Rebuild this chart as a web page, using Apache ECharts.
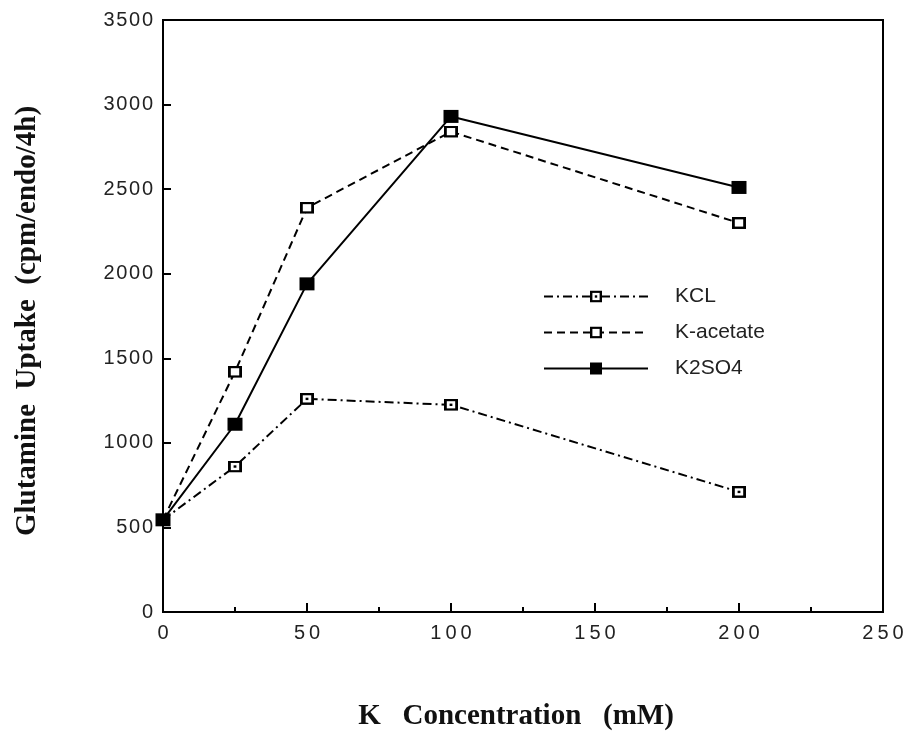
<!DOCTYPE html>
<html>
<head>
<meta charset="utf-8">
<script src="https://cdn.jsdelivr.net/npm/echarts@6/dist/echarts.min.js"></script>
<style>html,body{margin:0;padding:0;background:#fff;}#c{width:907px;height:733px;}</style>
</head>
<body>
<div id="c"></div>
<script>
const concentrations = [0, 25, 50, 100, 200];
const kclValues = [545, 860, 1260, 1225, 710];
const kAcetateValues = [545, 1420, 2390, 2840, 2300];
const k2so4Values = [545, 1110, 1940, 2930, 2510];
const seriesNames = ['KCL', 'K-acetate', 'K2SO4'];
const xTitle = 'K   Concentration   (mM)';
const yTitle = 'Glutamine  Uptake  (cpm/endo/4h)';

const dotSquare = 'image://data:image/svg+xml;utf8,' + encodeURIComponent(
  '<svg xmlns="http://www.w3.org/2000/svg" width="20" height="20" viewBox="0 0 20 20">' +
  '<rect x="2" y="2" width="16" height="16" fill="#fff" stroke="#000" stroke-width="4"/>' +
  '<rect x="8" y="8" width="4" height="4" fill="#000"/></svg>');
const openSquare = 'image://data:image/svg+xml;utf8,' + encodeURIComponent(
  '<svg xmlns="http://www.w3.org/2000/svg" width="20" height="20" viewBox="0 0 20 20">' +
  '<rect x="2" y="2" width="16" height="16" fill="#fff" stroke="#000" stroke-width="4"/></svg>');

function pairs(vals) { return concentrations.map((x, i) => [x, vals[i]]); }
function spaced(v, sep) { return String(v).split('').join(sep); }

const chart = echarts.init(document.getElementById('c'), null, {renderer: 'canvas'});
chart.setOption({
  animation: false,
  backgroundColor: '#fff',
  grid: {left: 163, right: 24, top: 20, bottom: 121, show: true, borderColor: '#000', borderWidth: 2, backgroundColor: 'transparent'},
  xAxis: {
    type: 'value', min: 0, max: 250, interval: 50,
    axisLine: {show: true, onZero: false, lineStyle: {color: '#000', width: 2}},
    axisTick: {show: true, inside: true, length: 9, lineStyle: {color: '#000', width: 2}},
    minorTick: {show: true, splitNumber: 2, length: 5, lineStyle: {color: '#000', width: 2}},
    axisLabel: {color: '#222', fontSize: 20, fontFamily: 'Liberation Sans', margin: 11,
      formatter: v => spaced(v, '\u2009')},
    splitLine: {show: false}
  },
  yAxis: {
    type: 'value', min: 0, max: 3500, interval: 500,
    axisLine: {show: true, onZero: false, lineStyle: {color: '#000', width: 2}},
    axisTick: {show: true, inside: true, length: 8, lineStyle: {color: '#000', width: 2}},
    axisLabel: {color: '#222', fontSize: 20, fontFamily: 'Liberation Sans', margin: 10,
      formatter: v => spaced(v, '\u200A')},
    splitLine: {show: false}
  },
  legend: {
    orient: 'vertical', left: 538, top: 281, itemWidth: 104, itemHeight: 15, itemGap: 15,
    data: seriesNames,
    textStyle: {color: '#222', fontSize: 21, fontFamily: 'Liberation Sans', padding: [0, 0, 0, 22]}
  },
  graphic: [
    {type: 'text', x: 516, y: 717, style: {text: xTitle, font: 'bold 29px "Liberation Serif"', fill: '#111', align: 'center', verticalAlign: 'middle'}},
    {type: 'text', x: 28, y: 321, rotation: Math.PI / 2, style: {text: yTitle, font: 'bold 29px "Liberation Serif"', fill: '#111', align: 'center', verticalAlign: 'middle'}}
  ],
  series: [
    {name: seriesNames[0], type: 'line', data: pairs(kclValues), symbol: dotSquare, symbolSize: [14, 12],
     lineStyle: {color: '#000', width: 2, type: [9, 4, 2, 4]}, itemStyle: {color: '#000'}, z: 2},
    {name: seriesNames[1], type: 'line', data: pairs(kAcetateValues), symbol: openSquare, symbolSize: [14, 12],
     lineStyle: {color: '#000', width: 2, type: [8, 5]}, itemStyle: {color: '#000'}, z: 3},
    {name: seriesNames[2], type: 'line', data: pairs(k2so4Values), symbol: 'rect', symbolSize: [15, 13],
     lineStyle: {color: '#000', width: 2, type: 'solid'}, itemStyle: {color: '#000'}, z: 4}
  ]
});
</script>
</body>
</html>
